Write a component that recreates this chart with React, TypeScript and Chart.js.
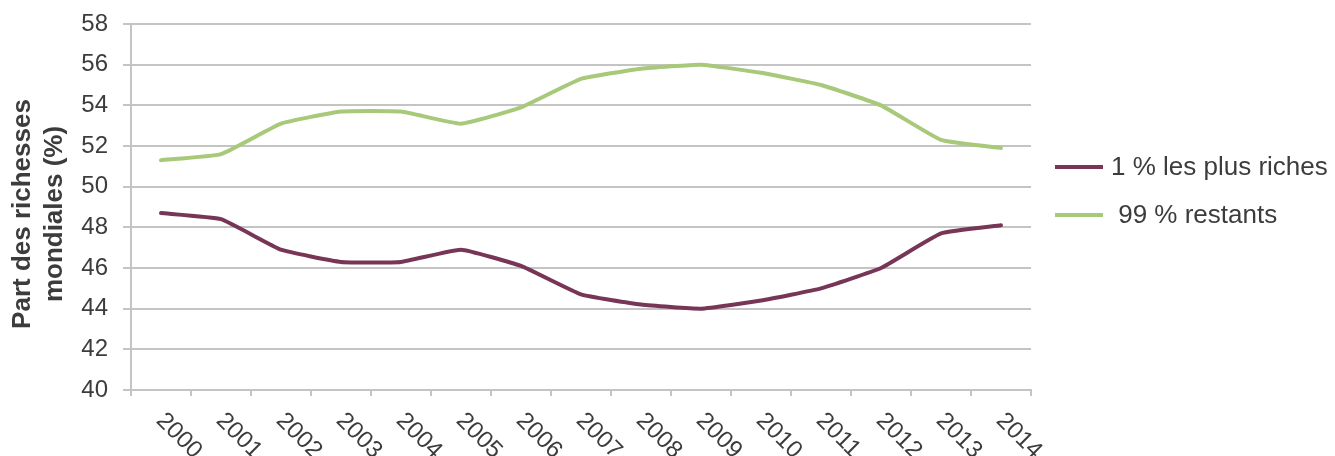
import React, { useEffect, useRef } from 'react';
import { Chart, registerables } from 'chart.js';

Chart.register(...registerables);

const YEARS = ['2000', '2001', '2002', '2003', '2004', '2005', '2006', '2007', '2008', '2009', '2010', '2011', '2012', '2013', '2014'];
const TOP1 = [48.7, 48.4, 46.9, 46.3, 46.3, 46.9, 46.1, 44.7, 44.2, 44.0, 44.4, 45.0, 46.0, 47.7, 48.1];
const REST99 = [51.3, 51.6, 53.1, 53.7, 53.7, 53.1, 53.9, 55.3, 55.8, 56.0, 55.6, 55.0, 54.0, 52.3, 51.9];
const SERIES_LABELS = ['1 % les plus riches', ' 99 % restants'];
const SERIES_COLORS = ['#773656', '#a8c87a'];
const Y_TITLE = ['Part des richesses', 'mondiales (%)'];
const Y_MIN = 40;
const Y_MAX = 58;
const Y_STEP = 2;

const FONT = '"Liberation Sans", Arial, Helvetica, sans-serif';
const GRID = '#c4c4c4';
const TEXT = '#3c3c3c';

const overlayPlugin = {
  id: 'overlay',
  afterDraw(chart: any) {
    const { ctx, chartArea, scales } = chart;
    const xs = scales.x;
    ctx.save();
    ctx.font = `24px ${FONT}`;
    ctx.fillStyle = TEXT;
    ctx.textAlign = 'left';
    ctx.textBaseline = 'middle';
    YEARS.forEach((yr, i) => {
      const px = xs.getPixelForValue(i);
      ctx.save();
      ctx.translate(px - 1, chartArea.bottom + 27);
      ctx.rotate(Math.PI / 4);
      ctx.fillText(yr, 0, 0);
      ctx.restore();
    });
    ctx.font = `bold 26px ${FONT}`;
    ctx.textAlign = 'center';
    const cy = (chartArea.top + chartArea.bottom) / 2 + 7;
    Y_TITLE.forEach((line, i) => {
      ctx.save();
      ctx.translate(23 + i * 32, cy);
      ctx.rotate(-Math.PI / 2);
      ctx.fillText(line, 0, 0);
      ctx.restore();
    });
    ctx.font = `26px ${FONT}`;
    ctx.textAlign = 'left';
    chart.data.datasets.forEach((ds: any, i: number) => {
      const y = 167 + i * 48;
      const x0 = chartArea.right + 24;
      ctx.strokeStyle = ds.borderColor;
      ctx.lineWidth = 4;
      ctx.beginPath();
      ctx.moveTo(x0, y);
      ctx.lineTo(x0 + 48, y);
      ctx.stroke();
      ctx.fillStyle = TEXT;
      ctx.fillText(ds.label, x0 + 56, y + 1);
    });
    ctx.restore();
  },
};

export default function App() {
  const ref = useRef<HTMLCanvasElement | null>(null);
  useEffect(() => {
    if (!ref.current) return;
    const chart = new Chart(ref.current, {
      type: 'line',
      data: {
        labels: YEARS,
        datasets: [
          {
            label: SERIES_LABELS[0],
            data: TOP1,
            borderColor: SERIES_COLORS[0],
            backgroundColor: SERIES_COLORS[0],
            borderWidth: 4,
            pointRadius: 0,
            tension: 0.12,
            borderCapStyle: 'round',
            borderJoinStyle: 'round',
          },
          {
            label: SERIES_LABELS[1],
            data: REST99,
            borderColor: SERIES_COLORS[1],
            backgroundColor: SERIES_COLORS[1],
            borderWidth: 4,
            pointRadius: 0,
            tension: 0.12,
            borderCapStyle: 'round',
            borderJoinStyle: 'round',
          },
        ],
      },
      options: {
        animation: false,
        responsive: true,
        maintainAspectRatio: false,
        layout: { autoPadding: false, padding: { top: 24, right: 304, bottom: 0, left: 0 } },
        plugins: {
          legend: { display: false },
          tooltip: { enabled: false },
        },
        scales: {
          x: {
            offset: true,
            grid: {
              display: true,
              drawOnChartArea: false,
              drawTicks: true,
              tickLength: 6,
              color: GRID,
              lineWidth: 2,
              offset: true,
            },
            border: { display: true, color: GRID, width: 2 },
            ticks: { display: false },
            afterFit: (scale: any) => {
              scale.height = 66;
            },
          },
          y: {
            min: Y_MIN,
            max: Y_MAX,
            ticks: {
              stepSize: Y_STEP,
              font: { family: FONT, size: 24 },
              color: TEXT,
              padding: 15,
            },
            grid: { color: GRID, lineWidth: 2, tickLength: 8 },
            border: { display: true, color: GRID, width: 2 },
            afterFit: (scale: any) => {
              scale.width = 131;
              scale.paddingTop = 0;
              scale.paddingBottom = 0;
            },
          },
        },
      },
      plugins: [overlayPlugin],
    });
    return () => chart.destroy();
  }, []);
  return (
    <div style={{ position: 'absolute', left: 0, top: 0, width: 1335, height: 456, background: '#fff' }}>
      <canvas ref={ref} />
    </div>
  );
}
